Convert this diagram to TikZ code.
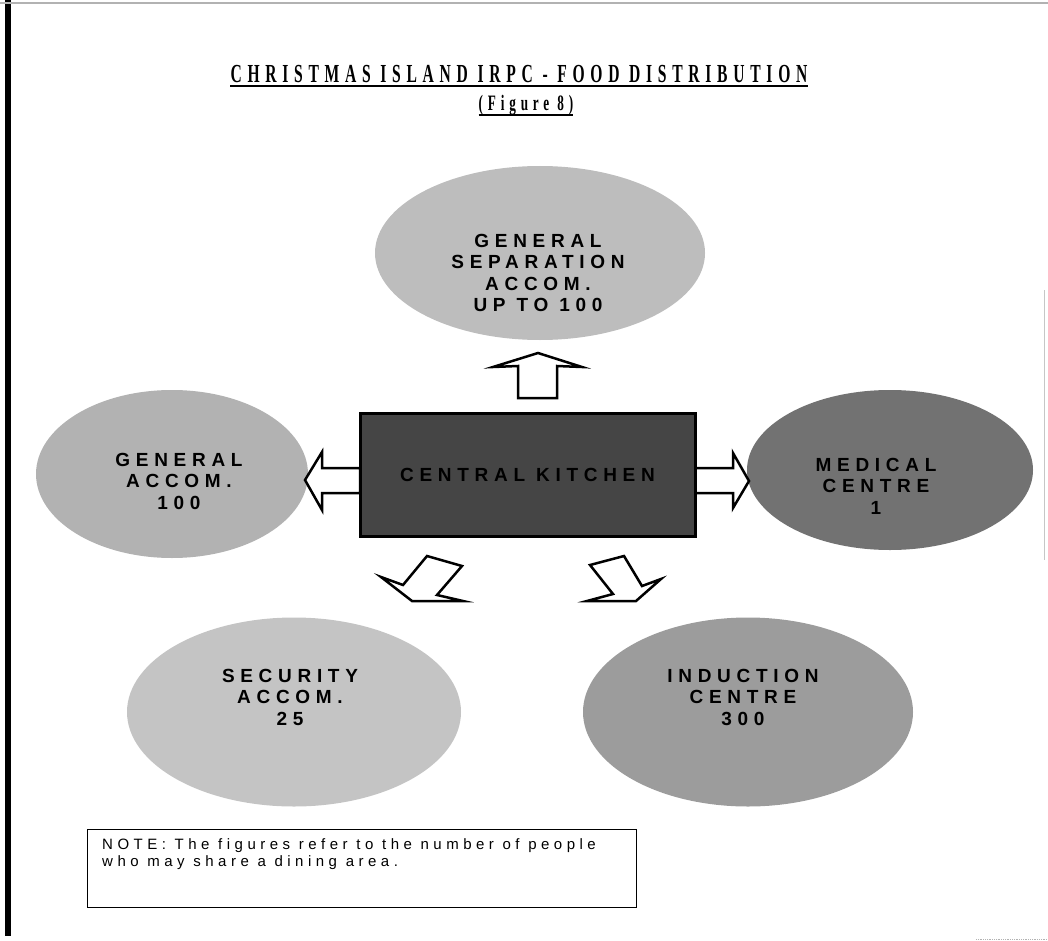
\documentclass[tikz,border=0pt]{standalone}
\usepackage{fontspec}
\setmainfont{Liberation Sans}
\newfontfamily\titlefont[FakeStretch=0.6,LetterSpace=22]{Liberation Serif}
\newfontfamily\blobfont[LetterSpace=30]{Liberation Sans}
\newfontfamily\notefont[LetterSpace=30]{Liberation Sans}
\usepackage{xcolor}
\definecolor{KitchenGrey}{HTML}{454545}
\definecolor{SepGrey}{HTML}{BDBDBD}
\definecolor{GenGrey}{HTML}{B2B2B2}
\definecolor{MedGrey}{HTML}{727272}
\definecolor{SecGrey}{HTML}{C4C4C4}
\definecolor{IndGrey}{HTML}{9C9C9C}
\usepackage{tikz}
\usetikzlibrary{shapes.geometric}

\begin{document}
\begin{tikzpicture}[x=1pt,y=-1pt,
    blob/.style={ellipse,inner sep=0pt},
    blobtext/.style={font={\blobfont\bfseries\fontsize{19}{21.5}\selectfont},align=center,inner sep=0pt},
    blockarr/.style={draw=black,line width=2.5pt,fill=white,line join=miter}]
    \useasboundingbox (0,0) rectangle (1048,941);
    % page edges
    \draw[line width=6pt] (8,0) -- (8,936);
    \draw[gray!60,line width=1.5pt] (0,3) -- (1048,3);
    \draw[gray!45,line width=0.8pt] (1044,290) -- (1044,560);
    \draw[gray!60,densely dotted,line width=0.8pt] (976,939) -- (1048,939);
    % heading
    \node[font={\titlefont\bfseries\fontsize{26}{30}\selectfont},inner sep=0pt,anchor=base] (title) at (519,83) {CHRISTMAS ISLAND IRPC - FOOD DISTRIBUTION};
    \draw[line width=1.6pt] ([yshift=-3pt]title.base west) -- ([yshift=-3pt]title.base east);
    \node[font={\titlefont\bfseries\fontsize{22}{26}\selectfont},inner sep=0pt,anchor=base] (fig) at (526,111) {(Figure 8)};
    \draw[line width=1.6pt] ([yshift=-4pt]fig.base west) -- ([yshift=-4pt]fig.base east);
    % dining areas
    \node[blob,fill=SepGrey,minimum width=330pt,minimum height=174pt] (sepacc) at (540,253) {};
    \node[blobtext] (sepaccT) at (538,273) {GENERAL\\SEPARATION\\ACCOM.\\UP TO 100};
    \node[blob,fill=GenGrey,minimum width=272pt,minimum height=168pt] (genacc) at (172,474) {};
    \node[blobtext] (genaccT) at (179,481) {GENERAL\\ACCOM.\\100};
    \node[blob,fill=MedGrey,minimum width=286pt,minimum height=160pt] (medical) at (890,470) {};
    \node[blobtext] (medicalT) at (876,486) {MEDICAL\\CENTRE\\1};
    \node[blob,fill=SecGrey,minimum width=334pt,minimum height=189pt] (secacc) at (294,712) {};
    \node[blobtext] (secaccT) at (290,697) {SECURITY\\ACCOM.\\25};
    \node[blob,fill=IndGrey,minimum width=330pt,minimum height=189pt] (induction) at (748,712) {};
    \node[blobtext] (inductionT) at (743,697) {INDUCTION\\CENTRE\\300};
    % block arrows
    \draw[blockarr] (538,353) -- (582,367) -- (557,366) -- (557,398) -- (518,398) -- (518,366) -- (493,367) -- cycle;
    \draw[blockarr] (360,468) -- (322,468) -- (322,452) -- (305,480) -- (322,510) -- (322,493) -- (360,493) -- cycle;
    \draw[blockarr] (695,468) -- (733,468) -- (733,453) -- (749,481) -- (733,508) -- (733,493) -- (695,493) -- cycle;
    \draw[blockarr] (427,556) -- (462,566) -- (437,595) -- (463,601) -- (412,601) -- (381,577) -- (403,585) -- cycle;
    \draw[blockarr] (624,556) -- (590,565) -- (613,594) -- (587,601) -- (636,601) -- (661,579) -- (642,586) -- cycle;
    % kitchen
    \node[draw=black,line width=3pt,fill=KitchenGrey,minimum width=335pt,minimum height=123pt,inner sep=0pt,
          font={\blobfont\bfseries\fontsize{19}{21.5}\selectfont},text=black] (kitchen) at (527.5,474.5) {CENTRAL KITCHEN};
    % note
    \node[draw=black,line width=0.8pt,minimum width=549pt,minimum height=78pt,inner sep=0pt] (note) at (361.5,868) {};
    \node[font={\notefont\fontsize{15}{17}\selectfont},align=left,inner sep=0pt,anchor=north west] (noteT) at (102,838)
        {NOTE: The figures refer to the number of people\\who may share a dining area.};
\end{tikzpicture}
\end{document}
